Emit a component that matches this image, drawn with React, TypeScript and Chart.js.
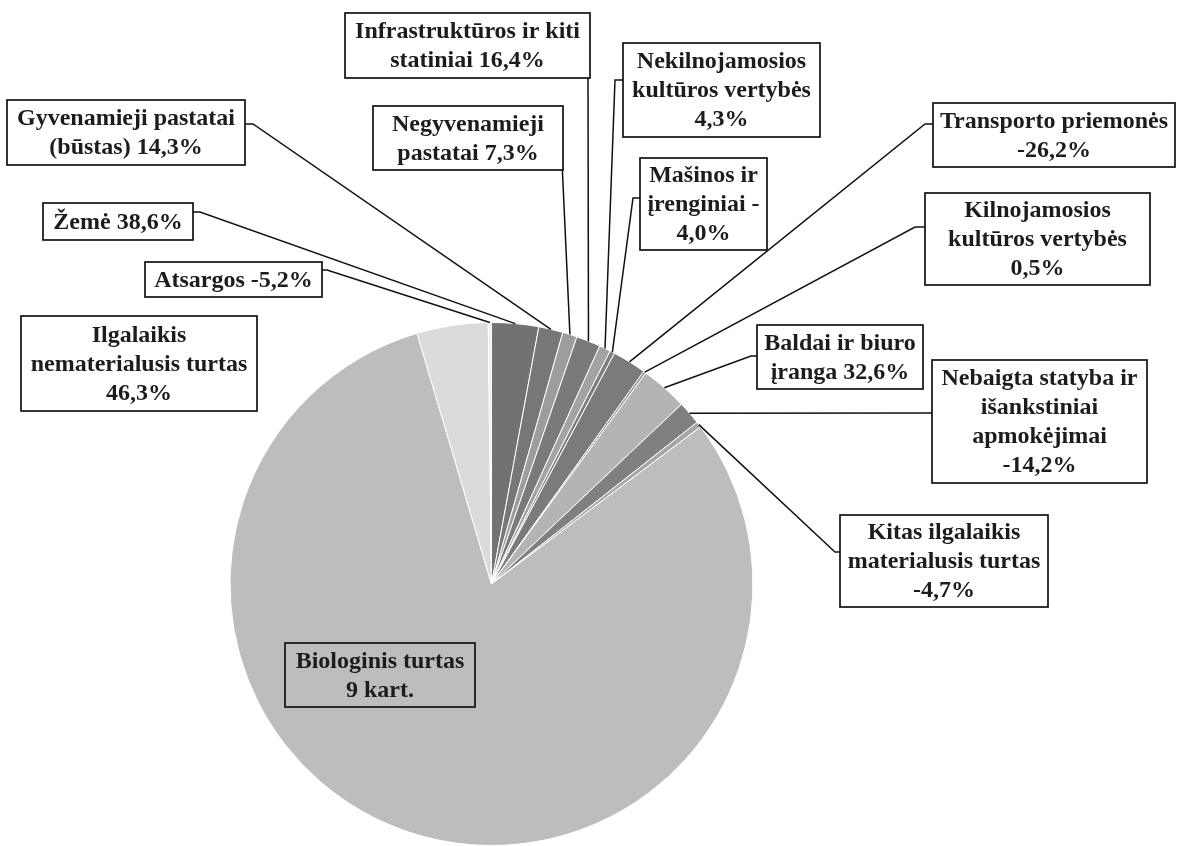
import React, { useEffect, useRef } from "react";
import { Chart, registerables } from "chart.js";

Chart.register(...registerables);

// ---- Data (pie order, clockwise from 12 o'clock) ----
const categories = [
  "Žemė",
  "Gyvenamieji pastatai (būstas)",
  "Negyvenamieji pastatai",
  "Infrastruktūros ir kiti statiniai",
  "Nekilnojamosios kultūros vertybės",
  "Mašinos ir įrenginiai",
  "Transporto priemonės",
  "Kilnojamosios kultūros vertybės",
  "Baldai ir biuro įranga",
  "Nebaigta statyba ir išankstiniai apmokėjimai",
  "Kitas ilgalaikis materialusis turtas",
  "Biologinis turtas",
  "Ilgalaikis nematerialusis turtas",
  "Atsargos",
];

// estimated share of each slice (%)
const shares = [2.9, 1.5, 0.9, 1.5, 0.7, 0.3, 2.1, 0.15, 2.9, 1.45, 0.35, 80.7, 4.4, 0.2];

// change labels shown in the callouts
const changes = [
  "38,6%", "14,3%", "7,3%", "16,4%", "4,3%", "-4,0%", "-26,2%",
  "0,5%", "32,6%", "-14,2%", "-4,7%", "9 kart.", "46,3%", "-5,2%",
];

// text lines of each callout (as wrapped in the original)
const labelLines = [
  ["Žemė 38,6%"],
  ["Gyvenamieji pastatai", "(būstas) 14,3%"],
  ["Negyvenamieji", "pastatai 7,3%"],
  ["Infrastruktūros ir kiti", "statiniai 16,4%"],
  ["Nekilnojamosios", "kultūros vertybės", "4,3%"],
  ["Mašinos ir", "įrenginiai -", "4,0%"],
  ["Transporto priemonės", "-26,2%"],
  ["Kilnojamosios", "kultūros vertybės", "0,5%"],
  ["Baldai ir biuro", "įranga 32,6%"],
  ["Nebaigta statyba ir", "išankstiniai", "apmokėjimai", "-14,2%"],
  ["Kitas ilgalaikis", "materialusis turtas", "-4,7%"],
  ["Biologinis turtas", "9 kart."],
  ["Ilgalaikis", "nematerialusis turtas", "46,3%"],
  ["Atsargos -5,2%"],
];

const sliceColors = [
  "#727272", "#777777", "#9d9d9d", "#7a7a7a", "#a3a3a3", "#7e7e7e", "#7b7b7b",
  "#8c8c8c", "#b4b4b4", "#808080", "#a6a6a6", "#bdbdbd", "#dbdbdb", "#efefef",
];

// ---- Layout of callout boxes (x, y, w, h) and leader anchors ----
type Box = {
  x: number; y: number; w: number; h: number;
  start?: [number, number]; tick?: [number, number]; fill?: boolean;
};
const boxLayout: Box[] = [
  { x: 43, y: 203, w: 150, h: 37, start: [193, 212], tick: [200, 212], fill: true },
  { x: 7, y: 100, w: 238, h: 65, start: [245, 124], tick: [253, 124], fill: true },
  { x: 373, y: 106, w: 190, h: 64, start: [561, 140], fill: true },
  { x: 345, y: 13, w: 245, h: 65, start: [588, 78], fill: true },
  { x: 623, y: 43, w: 197, h: 94, start: [623, 80], tick: [615, 80], fill: true },
  { x: 640, y: 158, w: 127, h: 92, start: [640, 198], tick: [633, 198], fill: true },
  { x: 933, y: 103, w: 242, h: 64, start: [933, 124], tick: [925, 124], fill: true },
  { x: 925, y: 193, w: 225, h: 92, start: [925, 227], tick: [915, 227], fill: true },
  { x: 757, y: 325, w: 166, h: 64, start: [757, 356], tick: [751, 356], fill: true },
  { x: 932, y: 360, w: 215, h: 123, start: [932, 413], fill: true },
  { x: 840, y: 515, w: 208, h: 92, start: [840, 552], tick: [835, 552], fill: true },
  { x: 285, y: 643, w: 190, h: 64, fill: false },
  { x: 21, y: 316, w: 236, h: 95, fill: true },
  { x: 145, y: 262, w: 177, h: 35, start: [322, 270], tick: [327, 270], fill: true },
];

const LINE_H = 29;
const FONT = 'bold 24px "Liberation Serif", "Times New Roman", serif';

const calloutPlugin = {
  id: "callouts",
  afterDraw(chart: any) {
    const ctx = chart.ctx as CanvasRenderingContext2D;
    const meta = chart.getDatasetMeta(0);
    ctx.save();
    // leader lines
    ctx.strokeStyle = "#111";
    ctx.lineWidth = 1.5;
    boxLayout.forEach((b, i) => {
      if (!b.start) return;
      const arc = meta.data[i];
      const p = arc.getProps(["x", "y", "startAngle", "endAngle", "outerRadius"], true);
      const mid = (p.startAngle + p.endAngle) / 2;
      const ex = p.x + Math.cos(mid) * p.outerRadius;
      const ey = p.y + Math.sin(mid) * p.outerRadius;
      ctx.beginPath();
      ctx.moveTo(b.start[0], b.start[1]);
      if (b.tick) ctx.lineTo(b.tick[0], b.tick[1]);
      ctx.lineTo(ex, ey);
      ctx.stroke();
    });
    // boxes
    ctx.font = FONT;
    ctx.textAlign = "center";
    ctx.textBaseline = "middle";
    boxLayout.forEach((b, i) => {
      if (b.fill) {
        ctx.fillStyle = "#ffffff";
        ctx.fillRect(b.x, b.y, b.w, b.h);
      }
      ctx.strokeStyle = "#111";
      ctx.lineWidth = 1.7;
      ctx.strokeRect(b.x, b.y, b.w, b.h);
      const lines = labelLines[i];
      const cx = b.x + b.w / 2;
      const cy = b.y + b.h / 2;
      ctx.fillStyle = "#1c1c1c";
      lines.forEach((t, k) => {
        ctx.fillText(t, cx, cy + (k - (lines.length - 1) / 2) * LINE_H + 1);
      });
    });
    ctx.restore();
  },
};

export default function App() {
  const ref = useRef<HTMLCanvasElement | null>(null);
  useEffect(() => {
    if (!ref.current) return;
    const chart = new Chart(ref.current, {
      type: "pie",
      data: {
        labels: categories,
        datasets: [
          {
            data: shares,
            backgroundColor: sliceColors,
            borderColor: "#ffffff",
            borderWidth: 1,
            hoverOffset: 0,
          } as any,
        ],
      },
      options: {
        responsive: false,
        maintainAspectRatio: false,
        animation: false,
        layout: { padding: { left: 229, right: 426, top: 322, bottom: 0 } },
        plugins: {
          legend: { display: false },
          tooltip: { enabled: false },
          title: { display: false },
        },
        events: [],
      },
      plugins: [calloutPlugin],
    });
    return () => chart.destroy();
  }, []);
  return (
    <div style={{ position: "absolute", left: 0, top: 0, width: 1180, height: 846, background: "#fff", overflow: "hidden" }}>
      <canvas ref={ref} width={1180} height={846} style={{ display: "block" }} data-changes={changes.join("|")} />
    </div>
  );
}
